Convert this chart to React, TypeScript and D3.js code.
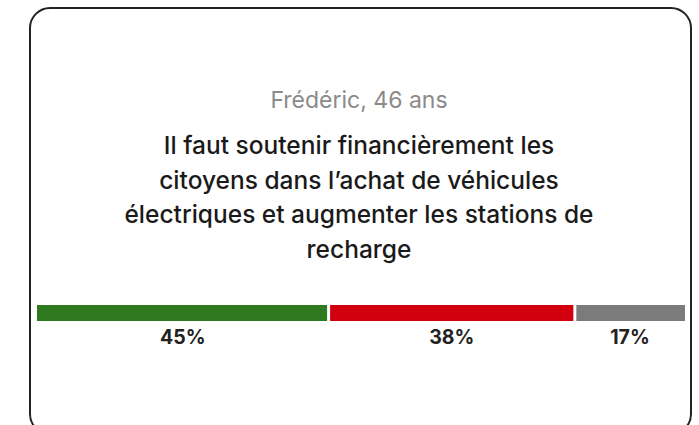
import React from "react";
import * as d3 from "d3";

const respondent = "Frédéric, 46 ans";
const quoteLines = [
  "Il faut soutenir financièrement les",
  "citoyens dans l’achat de véhicules",
  "électriques et augmenter les stations de",
  "recharge",
];
const answers = ["Pour", "Contre", "Sans avis"];
const shares = [45, 38, 17];
const colors = ["#2f7a1f", "#d2000f", "#7b7b7b"];

const W = 699;
const H = 425;

export default function App() {
  const x = d3.scaleLinear().domain([0, 100]).range([37, 685]);
  const ends = d3.cumsum(shares);
  const segs = shares.map((v, i) => ({
    key: answers[i],
    value: v,
    x0: ends[i] - v,
    x1: ends[i],
    color: colors[i],
  }));
  const gap = 1.5;
  const barY = 305;
  const barH = 16;
  const cx = 359;
  const lineY = d3.scaleLinear().domain([0, 1]).range([154, 188.5]);

  return (
    <svg
      width={W}
      height={H}
      style={{ position: "absolute", left: 0, top: 0, background: "#fff" }}
      fontFamily="Inter, 'Noto Sans', sans-serif"
    >
      <rect x={30} y={8} width={661} height={426} rx={20} fill="#fff" stroke="#222" strokeWidth={2} />
      <text x={cx} y={108} textAnchor="middle" fontSize={23} fill="#8a8a8a">
        {respondent}
      </text>
      {quoteLines.map((l, i) => (
        <text key={i} x={cx} y={lineY(i)} textAnchor="middle" fontSize={24.5} fontWeight={500} fill="#1a1a1a">
          {l}
        </text>
      ))}
      {segs.map((s, i) => (
        <g key={s.key}>
          <rect
            x={x(s.x0) + (i > 0 ? gap : 0)}
            y={barY}
            width={x(s.x1) - x(s.x0) - (i > 0 ? gap : 0) - (i < segs.length - 1 ? gap : 0)}
            height={barH}
            fill={s.color}
          />
          <text
            x={(x(s.x0) + x(s.x1)) / 2}
            y={344}
            textAnchor="middle"
            fontSize={19.5}
            fontWeight={700}
            fill="#222"
          >
            {s.value}%
          </text>
        </g>
      ))}
    </svg>
  );
}
